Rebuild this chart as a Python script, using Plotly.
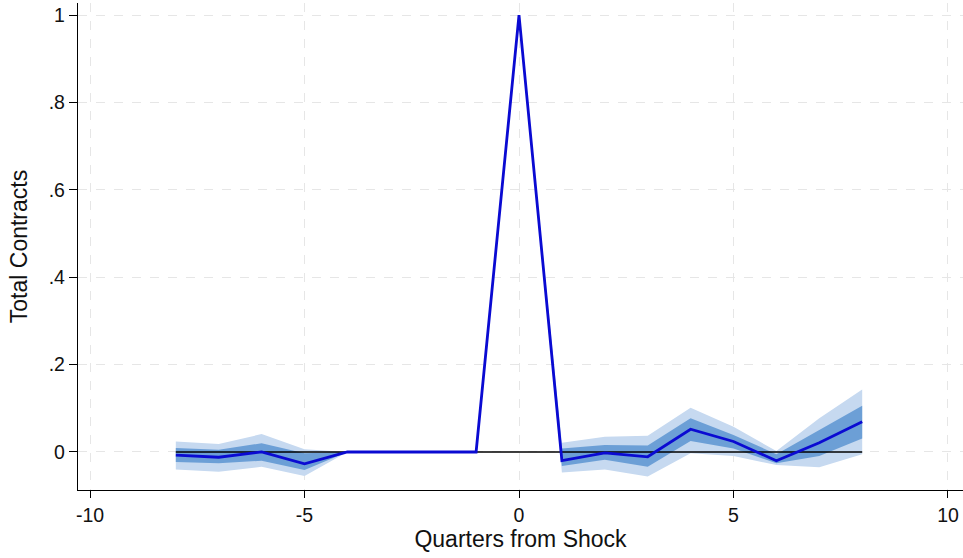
import plotly.graph_objects as go

# Event-time coefficients (quarters relative to shock)
quarters = [-8, -7, -6, -5, -4, -3, -2, -1, 0, 1, 2, 3, 4, 5, 6, 7, 8]
coef = [-0.007, -0.012, 0.000, -0.027, 0, 0, 0, 0, 1.0,
        -0.020, -0.002, -0.011, 0.052, 0.024, -0.020, 0.021, 0.069]
# 90% confidence interval
ci90_lo = [-0.023, -0.026, -0.020, -0.041, 0, 0, 0, 0, 1.0,
           -0.032, -0.018, -0.034, 0.025, 0.008, -0.026, -0.009, 0.031]
ci90_hi = [0.009, 0.005, 0.020, -0.003, 0, 0, 0, 0, 1.0,
           0.008, 0.016, 0.015, 0.077, 0.039, -0.005, 0.050, 0.106]
# 95% confidence interval
ci95_lo = [-0.040, -0.045, -0.034, -0.055, 0, 0, 0, 0, 1.0,
           -0.047, -0.040, -0.056, -0.003, -0.009, -0.030, -0.035, -0.005]
ci95_hi = [0.024, 0.018, 0.041, 0.006, 0, 0, 0, 0, 1.0,
           0.021, 0.035, 0.037, 0.101, 0.058, 0.002, 0.077, 0.143]

x_ticks = [-10, -5, 0, 5, 10]
x_tick_labels = ["-10", "-5", "0", "5", "10"]
y_ticks = [0, 0.2, 0.4, 0.6, 0.8, 1]
y_tick_labels = ["0", ".2", ".4", ".6", ".8", "1"]

light_band = "rgba(198,217,240,1)"
dark_band = "rgba(108,159,214,1)"
line_color = "#0a0ad2"

fig = go.Figure()


def band(lo, hi, color):
    fig.add_trace(go.Scatter(x=quarters + quarters[::-1], y=hi + lo[::-1],
                             fill="toself", fillcolor=color, mode="lines",
                             line=dict(width=0, color=color),
                             hoverinfo="skip", showlegend=False))


band(ci95_lo, ci95_hi, light_band)
band(ci90_lo, ci90_hi, dark_band)

# Zero reference line
fig.add_trace(go.Scatter(x=[quarters[0], quarters[-1]], y=[0, 0], mode="lines",
                         line=dict(color="black", width=1.5),
                         hoverinfo="skip", showlegend=False))

fig.add_trace(go.Scatter(x=quarters, y=coef, mode="lines",
                         line=dict(color=line_color, width=2.8),
                         showlegend=False))

font = dict(family="Liberation Sans, Arial, sans-serif", size=19.5, color="#111111")

fig.update_layout(
    width=963, height=558,
    margin=dict(l=78, r=0, t=3, b=68),
    paper_bgcolor="white", plot_bgcolor="white",
    font=font,
    xaxis=dict(range=[-10.28, 10.35], tickvals=x_ticks, ticktext=x_tick_labels,
               showgrid=True, gridcolor="#e6e6e6", griddash="dash", gridwidth=1,
               zeroline=False, showline=True, linecolor="black", linewidth=1.3,
               ticks="outside", ticklen=7, tickcolor="black",
               title=dict(text="Quarters from Shock", standoff=4)),
    yaxis=dict(range=[-0.087, 1.0275], tickvals=y_ticks, ticktext=y_tick_labels,
               showgrid=True, gridcolor="#e6e6e6", griddash="dash", gridwidth=1,
               zeroline=False, showline=True, linecolor="black", linewidth=1.3,
               ticks="outside", ticklen=8, tickcolor="black",
               title=dict(text="Total Contracts", standoff=14)),
)

fig.write_html("out.html")
